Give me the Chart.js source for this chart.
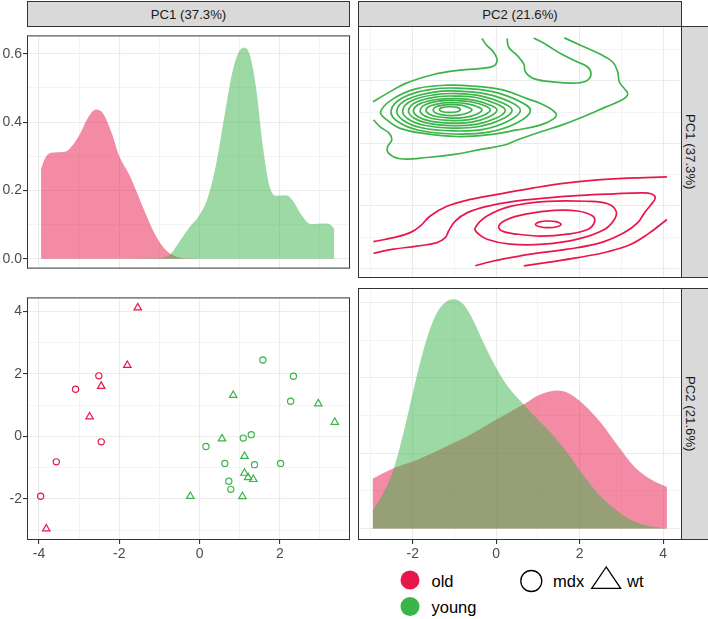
<!DOCTYPE html>
<html>
<head>
<meta charset="utf-8">
<script src="https://cdn.jsdelivr.net/npm/chart.js@4.4.1/dist/chart.umd.min.js"></script>
<style>
  body { margin: 0; width: 708px; height: 619px; background: #fff; position: relative; overflow: hidden;
         font-family: "Liberation Sans", Arial, sans-serif; }
  canvas, .strip, .vtext, svg { position: absolute; }
  .strip { background: #D9D9D9; border: 1px solid #333333; box-sizing: border-box; color: #1A1A1A;
           font-size: 13.2px; display: flex; align-items: center; justify-content: center; }
  .vtext { writing-mode: vertical-rl; color: #1A1A1A; font-size: 13.2px; line-height: 14px; text-align: center; }
</style>
</head>
<body>
<div class="strip" style="left:27px;top:1px;width:323px;height:26px">PC1 (37.3%)</div>
<div class="strip" style="left:358px;top:1px;width:324px;height:26px">PC2 (21.6%)</div>
<div class="strip" style="left:681px;top:26px;width:30px;height:252px"></div>
<div class="strip" style="left:681px;top:288px;width:30px;height:252px"></div>
<div class="vtext" style="left:683px;top:26px;width:14px;height:252px">PC1 (37.3%)</div>
<div class="vtext" style="left:683px;top:288px;width:14px;height:252px">PC2 (21.6%)</div>

<canvas id="tl" width="350" height="252" style="left:0;top:26px"></canvas>
<canvas id="tr" width="324" height="252" style="left:358px;top:26px"></canvas>
<canvas id="bl" width="350" height="272" style="left:0;top:288px"></canvas>
<canvas id="br" width="324" height="272" style="left:358px;top:288px"></canvas>

<svg width="318" height="59" style="left:390px;top:560px" font-family="Liberation Sans, Arial, sans-serif" font-size="16.5">
  <circle cx="20" cy="20" r="9.5" fill="#E8174B"/>
  <circle cx="20" cy="46.5" r="9.5" fill="#3BB44A"/>
  <text x="41.5" y="21" dominant-baseline="central">old</text>
  <text x="41.5" y="47" dominant-baseline="central">young</text>
  <circle cx="141.3" cy="21" r="10.5" fill="none" stroke="#000" stroke-width="1.3"/>
  <text x="163" y="21" dominant-baseline="central">mdx</text>
  <polygon points="216.2,7 201.7,28.3 230.7,28.3" fill="none" stroke="#000" stroke-width="1.3" stroke-linejoin="miter"/>
  <text x="237" y="21" dominant-baseline="central">wt</text>
</svg>

<script>
// axis limits and breaks
const pc1Lim = [-4.30, 3.75];
const pc2Lim = [-3.31, 4.45];
const dens1Lim = [-0.029, 0.654];
const dens2Lim = [-0.0152, 0.319];
const pc1Major = [-4, -2, 0, 2];
const pc1Minor = [-3, -1, 1, 3];
const pc2Major = [-2, 0, 2, 4];
const pc2Minor = [-3, -1, 1, 3];
const dens1Major = [0, 0.2, 0.4, 0.6];
const dens1Minor = [0.1, 0.3, 0.5];
const dens2Major = [0, 0.1, 0.2, 0.3];
const dens2Minor = [0.05, 0.15, 0.25];

// PC1 densities
const oldPc1X = [-3.95, -3.82, -3.62, -3.33, -3.20, -2.99, -2.78, -2.58, -2.41, -2.20, -2.00, -1.75, -1.58, -1.33, -1.08, -0.83, -0.58, -0.33, 0.00, 1.00, 2.00, 3.36];
const oldPc1Dens = [0.264, 0.300, 0.311, 0.314, 0.327, 0.363, 0.413, 0.437, 0.426, 0.372, 0.300, 0.246, 0.200, 0.128, 0.065, 0.024, 0.006, 0.001, 0, 0, 0, 0];
const youngPc1X = [-3.95, -2.00, -1.08, -0.75, -0.50, -0.25, 0.00, 0.21, 0.42, 0.62, 0.83, 1.00, 1.12, 1.25, 1.41, 1.58, 1.75, 1.91, 2.16, 2.33, 2.54, 2.78, 3.07, 3.24, 3.36];
const youngPc1Dens = [0, 0, 0.001, 0.011, 0.050, 0.092, 0.128, 0.180, 0.280, 0.417, 0.553, 0.610, 0.618, 0.598, 0.500, 0.327, 0.210, 0.184, 0.186, 0.169, 0.128, 0.101, 0.103, 0.101, 0.088];

// PC2 densities
const oldPc2X = [-2.96, -2.46, -1.90, -1.26, -0.70, -0.14, 0.34, 0.67, 0.99, 1.31, 1.47, 1.71, 2.11, 2.51, 2.91, 3.31, 3.71, 4.09];
const oldPc2Dens = [0.066, 0.080, 0.091, 0.107, 0.122, 0.140, 0.155, 0.165, 0.176, 0.182, 0.183, 0.180, 0.164, 0.140, 0.110, 0.082, 0.065, 0.055];
const youngPc2X = [-2.96, -2.70, -2.46, -2.22, -1.98, -1.74, -1.50, -1.26, -1.02, -0.78, -0.54, -0.30, 0.02, 0.34, 0.67, 0.99, 1.31, 1.71, 2.11, 2.51, 2.91, 3.31, 3.71, 4.09];
const youngPc2Dens = [0.024, 0.047, 0.078, 0.127, 0.184, 0.237, 0.277, 0.298, 0.304, 0.297, 0.275, 0.246, 0.211, 0.184, 0.164, 0.145, 0.127, 0.100, 0.069, 0.042, 0.023, 0.009, 0.003, 0.000];

// samples (PC1, PC2)
const oldMdxPc1 = [-2.51, -3.09, -2.45, -3.57, -3.96];
const oldMdxPc2 = [1.94, 1.51, -0.17, -0.81, -1.91];
const oldWtPc1 = [-1.54, -1.80, -2.45, -2.74, -3.82];
const oldWtPc2 = [4.12, 2.28, 1.61, 0.63, -2.95];
const youngMdxPc1 = [1.58, 2.34, 2.27, 1.29, 1.09, 0.16, 0.63, 1.37, 2.02, 0.73, 0.78];
const youngMdxPc2 = [2.45, 1.93, 1.13, 0.06, -0.05, -0.32, -0.86, -0.90, -0.86, -1.43, -1.69];
const youngWtPc1 = [0.84, 2.96, 3.37, 0.56, 1.12, 1.12, 1.21, 1.34, -0.23, 1.07];
const youngWtPc2 = [1.32, 1.05, 0.46, -0.07, -0.63, -1.17, -1.31, -1.37, -1.91, -1.92];

// 2d density contours, [PC2, PC1] pairs; open lines end at the data range
const youngOpen = [
  [[-2.94, 0.75], [-2.78, 0.53], [-2.56, 0.32], [-2.50, 0.11], [-2.60, -0.10], [-2.58, -0.31], [-2.30, -0.49], [-1.66, -0.45], [-1.00, -0.35], [-0.40, -0.20], [0.20, -0.05], [0.50, 0.11], [1.07, 0.37], [1.60, 0.60], [2.10, 0.86], [2.60, 1.15], [3.03, 1.40], [3.15, 1.57], [3.07, 1.75], [2.95, 1.96], [2.91, 2.28], [2.79, 2.60], [2.47, 2.86], [2.03, 3.13], [1.63, 3.37]],
  [[-2.95, 1.33], [-2.62, 1.59], [-2.18, 1.91], [-1.50, 2.20], [-0.92, 2.33], [-0.40, 2.39], [-0.06, 2.47], [0.02, 2.67], [-0.08, 2.94], [-0.24, 3.15], [-0.34, 3.35]],
  [[0.26, 3.35], [0.30, 3.07], [0.50, 2.81], [0.66, 2.54], [0.70, 2.28], [0.90, 2.07], [1.39, 1.96], [1.95, 1.93], [2.19, 2.02], [2.27, 2.23], [2.19, 2.44], [1.95, 2.60], [1.55, 2.86], [1.23, 3.13], [0.90, 3.37]]
];
const youngRings = [
  [[-2.77, 1.01], [-2.46, 1.43], [-1.90, 1.75], [-1.18, 1.86], [-0.46, 1.82], [0.18, 1.70], [0.74, 1.43], [1.15, 1.22], [1.43, 0.96], [1.39, 0.80], [1.07, 0.59], [0.50, 0.43], [-0.22, 0.27], [-0.94, 0.22], [-1.74, 0.32], [-2.30, 0.48], [-2.62, 0.75]],
  [[-2.52, 1.04], [-2.25, 1.45], [-1.52, 1.73], [-0.85, 1.76], [-0.12, 1.66], [0.55, 1.35], [0.82, 1.04], [0.49, 0.65], [-0.18, 0.36], [-1.02, 0.30], [-1.85, 0.42], [-2.35, 0.69]],
  [[-2.38, 1.05], [-2.14, 1.40], [-1.49, 1.64], [-0.90, 1.67], [-0.25, 1.58], [0.34, 1.32], [0.58, 1.05], [0.28, 0.71], [-0.31, 0.45], [-1.05, 0.40], [-1.79, 0.50], [-2.23, 0.74]],
  [[-2.24, 1.05], [-2.03, 1.36], [-1.45, 1.56], [-0.93, 1.59], [-0.35, 1.51], [0.17, 1.28], [0.38, 1.05], [0.12, 0.76], [-0.41, 0.54], [-1.06, 0.49], [-1.72, 0.58], [-2.11, 0.78]],
  [[-2.10, 1.05], [-1.91, 1.32], [-1.40, 1.49], [-0.94, 1.51], [-0.43, 1.45], [0.03, 1.25], [0.22, 1.05], [-0.01, 0.80], [-0.48, 0.61], [-1.06, 0.57], [-1.64, 0.65], [-1.98, 0.82]],
  [[-1.98, 1.06], [-1.82, 1.27], [-1.38, 1.41], [-0.98, 1.43], [-0.54, 1.38], [-0.14, 1.22], [0.02, 1.06], [-0.18, 0.84], [-0.58, 0.68], [-1.08, 0.65], [-1.58, 0.71], [-1.88, 0.86]],
  [[-1.82, 1.06], [-1.69, 1.24], [-1.32, 1.36], [-0.98, 1.37], [-0.61, 1.33], [-0.27, 1.20], [-0.14, 1.06], [-0.31, 0.89], [-0.64, 0.76], [-1.06, 0.73], [-1.48, 0.78], [-1.74, 0.90]],
  [[-1.68, 1.07], [-1.57, 1.20], [-1.28, 1.29], [-1.01, 1.30], [-0.72, 1.27], [-0.45, 1.17], [-0.34, 1.07], [-0.47, 0.93], [-0.74, 0.83], [-1.08, 0.81], [-1.41, 0.85], [-1.61, 0.94]],
  [[-1.51, 1.07], [-1.44, 1.17], [-1.23, 1.23], [-1.05, 1.24], [-0.84, 1.22], [-0.65, 1.14], [-0.58, 1.07], [-0.67, 0.98], [-0.86, 0.91], [-1.09, 0.89], [-1.32, 0.92], [-1.46, 0.98]],
  [[-1.36, 1.08], [-1.28, 1.15], [-1.11, 1.17], [-0.94, 1.15], [-0.86, 1.08], [-0.94, 1.01], [-1.11, 0.99], [-1.28, 1.01]]
];
const oldOpen = [
  [[-2.94, -3.14], [-2.46, -3.01], [-2.06, -2.85], [-1.82, -2.64], [-1.58, -2.32], [-1.18, -2.01], [-0.62, -1.79], [0.10, -1.61], [0.90, -1.42], [1.71, -1.26], [2.51, -1.16], [3.15, -1.11], [4.09, -1.07]],
  [[-2.94, -3.51], [-2.46, -3.38], [-1.90, -3.28], [-1.42, -3.17], [-1.22, -3.01], [-1.14, -2.80], [-0.98, -2.48], [-0.70, -2.22], [-0.22, -2.01], [0.42, -1.85], [1.23, -1.74], [2.03, -1.66], [2.83, -1.61], [3.47, -1.58], [3.71, -1.61], [3.81, -1.74], [3.71, -1.95], [3.55, -2.22], [3.39, -2.53], [3.07, -2.85], [2.51, -3.17], [1.71, -3.38], [0.90, -3.52], [0.26, -3.67], [-0.14, -3.78], [-0.50, -3.91]],
  [[0.66, -3.91], [1.23, -3.80], [1.95, -3.65], [2.67, -3.46], [3.23, -3.22], [3.63, -2.90], [4.09, -2.43]]
];
const oldRings = [
  [[-0.50, -2.69], [-0.22, -2.32], [0.34, -2.01], [1.23, -1.85], [2.19, -1.85], [2.67, -1.93], [2.87, -2.16], [2.83, -2.43], [2.59, -2.75], [1.95, -3.06], [1.15, -3.22], [0.34, -3.22], [-0.22, -3.06], [-0.46, -2.85]],
  [[0.06, -2.64], [0.26, -2.43], [0.74, -2.25], [1.39, -2.14], [1.95, -2.16], [2.31, -2.32], [2.35, -2.53], [2.19, -2.75], [1.71, -2.90], [1.07, -2.96], [0.50, -2.90], [0.14, -2.80]],
  [[0.94, -2.59], [1.07, -2.50], [1.24, -2.48], [1.43, -2.50], [1.55, -2.59], [1.43, -2.67], [1.24, -2.69], [1.07, -2.67]]
];

const red = '#E8174B';
const green = '#3BB44A';
const redFill = 'rgba(232, 23, 75, 0.5)';
const greenFill = 'rgba(59, 180, 74, 0.5)';

Chart.defaults.font.family = '"Liberation Sans", Arial, sans-serif';

function pts(xs, ys) {
    return xs.map((x, i) => ({x: x, y: ys[i]}));
}

function pairs(list) {
    return list.map(p => ({x: p[0], y: p[1]}));
}

function axis(lim, major, minor, size, fmt, pad) {
    const all = major.concat(minor).sort((a, b) => a - b);
    const isMajor = c => c.tick && major.includes(c.tick.value);
    return {
        type: 'linear',
        min: lim[0],
        max: lim[1],
        afterBuildTicks: s => { s.ticks = all.map(v => ({value: v})); },
        afterFit: s => { if (s.isHorizontal()) s.height = size; else s.width = size; },
        border: {display: false},
        grid: {
            color: '#EBEBEB',
            lineWidth: c => isMajor(c) ? 1.1 : 0.55,
            drawTicks: !!fmt,
            tickLength: 4,
            tickWidth: 1.1,
            tickColor: c => isMajor(c) ? '#333333' : 'rgba(0,0,0,0)'
        },
        ticks: {
            display: !!fmt,
            autoSkip: false,
            maxRotation: 0,
            minRotation: 0,
            padding: pad,
            color: '#4D4D4D',
            font: {size: 14},
            callback: v => (fmt && major.includes(v)) ? fmt(v) : ''
        }
    };
}

function baseOptions(x, y) {
    return {
        responsive: false,
        animation: false,
        events: [],
        layout: {padding: 0, autoPadding: false},
        plugins: {legend: {display: false}, tooltip: {enabled: false}},
        scales: {x: x, y: y}
    };
}

// dark border drawn over each panel
const panelBorder = {
    id: 'panelBorder',
    afterDraw(chart) {
        const a = chart.chartArea;
        const ctx = chart.ctx;
        ctx.save();
        ctx.strokeStyle = '#333333';
        ctx.lineWidth = 1;
        ctx.strokeRect(a.left + 0.5, a.top + 0.5, a.right - a.left - 1, a.bottom - a.top - 1);
        ctx.restore();
    }
};

// let a line dataset close on itself, as radar lines do
const closedRings = {
    id: 'closedRings',
    afterDatasetUpdate(chart, args) {
        if (!chart.data.datasets[args.index].closed) return;
        const line = args.meta.dataset;
        line._loop = true;
        line._fullLoop = true;
        line._pointsUpdated = false;
        delete line._segments;
        delete line._path;
    }
};

function density(points, fill, order) {
    return {data: points, backgroundColor: fill, fill: 'origin', borderWidth: 0, pointRadius: 0,
            cubicInterpolationMode: 'monotone', order: order};
}

function contour(list, color, closed) {
    return {data: pairs(list), borderColor: color, borderWidth: 1.7, pointRadius: 0, tension: 0.4,
            fill: false, closed: closed};
}

function samples(xs, ys, color, style, radius) {
    return {data: pts(xs, ys), pointStyle: style, pointRadius: radius, pointBorderWidth: 1.2,
            pointBorderColor: color, pointBackgroundColor: 'rgba(0,0,0,0)',
            borderColor: color, backgroundColor: 'rgba(0,0,0,0)'};
}

const fmt1 = v => v.toFixed(1);
const fmt0 = v => String(v);

new Chart(document.getElementById('tl'), {
    type: 'line',
    data: {datasets: [
        density(pts(youngPc1X, youngPc1Dens), greenFill, 1),
        density(pts(oldPc1X, oldPc1Dens), redFill, 2)
    ]},
    options: baseOptions(
        axis(pc1Lim, pc1Major, pc1Minor, 0, null, 0),
        axis(dens1Lim, dens1Major, dens1Minor, 27, fmt1, 1)
    ),
    plugins: [panelBorder]
});

let contourSets = [];
youngOpen.forEach(l => contourSets.push(contour(l, green, false)));
youngRings.forEach(l => contourSets.push(contour(l, green, true)));
oldOpen.forEach(l => contourSets.push(contour(l, red, false)));
oldRings.forEach(l => contourSets.push(contour(l, red, true)));

new Chart(document.getElementById('tr'), {
    type: 'line',
    data: {datasets: contourSets},
    options: baseOptions(
        axis(pc2Lim, pc2Major, pc2Minor, 0, null, 0),
        axis(pc1Lim, pc1Major, pc1Minor, 0, null, 0)
    ),
    plugins: [closedRings, panelBorder]
});

new Chart(document.getElementById('bl'), {
    type: 'scatter',
    data: {datasets: [
        samples(oldMdxPc1, oldMdxPc2, red, 'circle', 3.1),
        samples(oldWtPc1, oldWtPc2, red, 'triangle', 4.3),
        samples(youngMdxPc1, youngMdxPc2, green, 'circle', 3.1),
        samples(youngWtPc1, youngWtPc2, green, 'triangle', 4.3)
    ]},
    options: baseOptions(
        axis(pc1Lim, pc1Major, pc1Minor, 20, fmt0, 1.5),
        axis(pc2Lim, pc2Major, pc2Minor, 27, fmt0, 1)
    ),
    plugins: [panelBorder]
});

new Chart(document.getElementById('br'), {
    type: 'line',
    data: {datasets: [
        density(pts(youngPc2X, youngPc2Dens), greenFill, 1),
        density(pts(oldPc2X, oldPc2Dens), redFill, 2)
    ]},
    options: baseOptions(
        axis(pc2Lim, pc2Major, pc2Minor, 20, fmt0, 1.5),
        axis(dens2Lim, dens2Major, dens2Minor, 0, null, 0)
    ),
    plugins: [panelBorder]
});
</script>
</body>
</html>
